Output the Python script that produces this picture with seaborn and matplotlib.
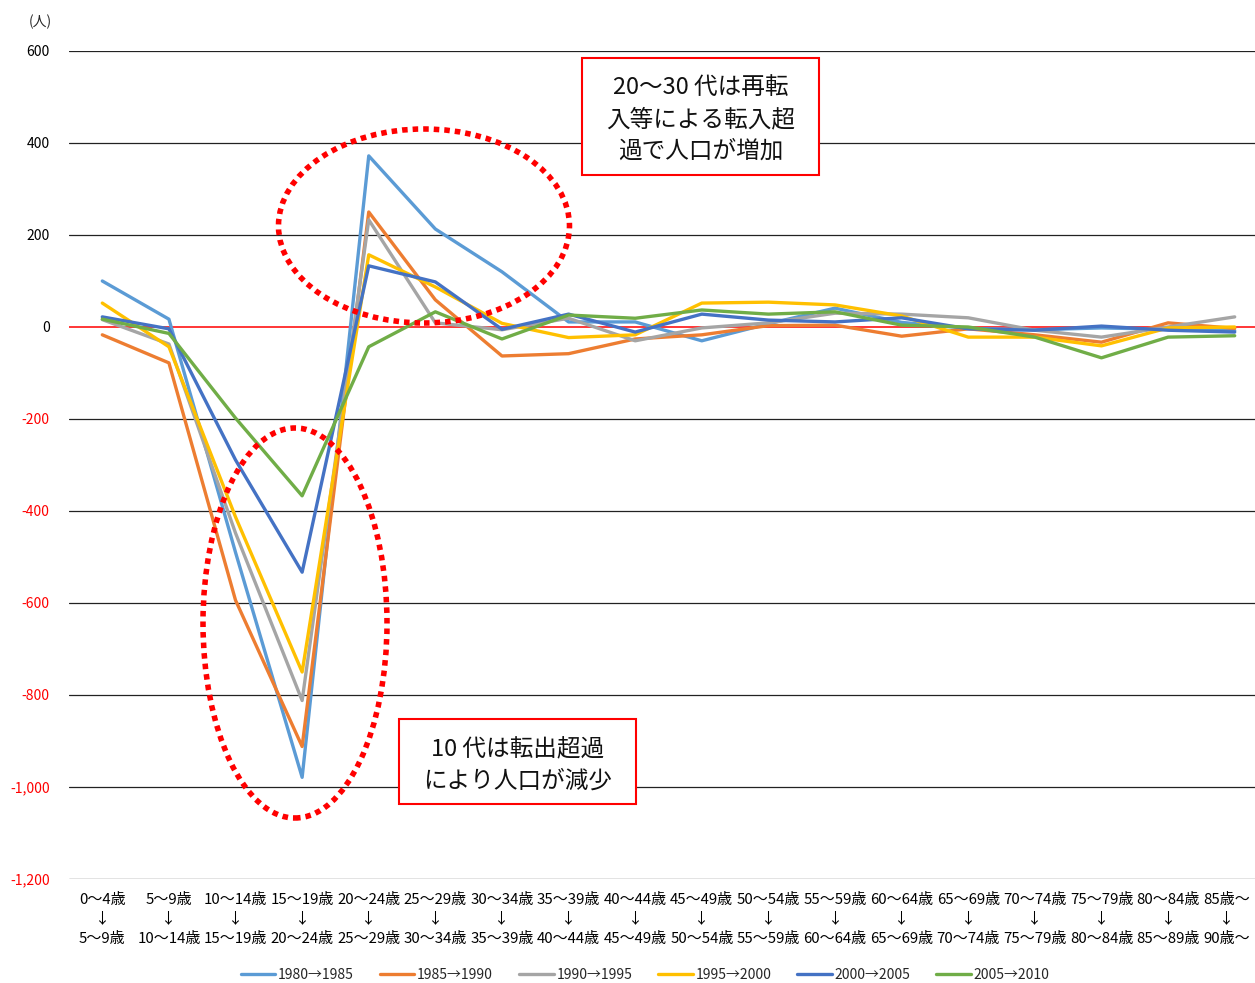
import numpy as np
import pandas as pd
import matplotlib
matplotlib.use("Agg")
import matplotlib.pyplot as plt
import matplotlib.transforms as mtransforms
from matplotlib.patches import Rectangle, Ellipse
import seaborn as sns

# ---------------- data ----------------
age_from = ["0〜4歳", "5〜9歳", "10〜14歳", "15〜19歳", "20〜24歳", "25〜29歳",
            "30〜34歳", "35〜39歳", "40〜44歳", "45〜49歳", "50〜54歳", "55〜59歳",
            "60〜64歳", "65〜69歳", "70〜74歳", "75〜79歳", "80〜84歳", "85歳〜"]
age_to = ["5〜9歳", "10〜14歳", "15〜19歳", "20〜24歳", "25〜29歳", "30〜34歳",
          "35〜39歳", "40〜44歳", "45〜49歳", "50〜54歳", "55〜59歳", "60〜64歳",
          "65〜69歳", "70〜74歳", "75〜79歳", "80〜84歳", "85〜89歳", "90歳〜"]

series_names = ["1980→1985", "1985→1990", "1990→1995", "1995→2000", "2000→2005", "2005→2010"]

s1980_1985 = [100, 17, -490, -979, 372, 213, 120, 11, 11, -30, 7, 41, 10, -3, -6, -2, -5, -8]
s1985_1990 = [-17, -78, -594, -912, 250, 59, -63, -58, -26, -17, 3, 4, -20, -4, -17, -33, 9, -3]
s1990_1995 = [16, -37, -448, -812, 233, 9, -6, 19, -30, -2, 9, 30, 28, 20, -7, -22, 0, 22]
s1995_2000 = [52, -43, -413, -750, 157, 87, 8, -23, -17, 52, 54, 48, 24, -22, -22, -41, -2, 0]
s2000_2005 = [22, -4, -289, -533, 133, 98, -5, 28, -11, 28, 15, 11, 20, -4, -7, 2, -7, -11]
s2005_2010 = [17, -14, -198, -367, -43, 33, -26, 26, 19, 37, 28, 33, 4, 0, -22, -67, -22, -19]

all_series = [s1980_1985, s1985_1990, s1990_1995, s1995_2000, s2000_2005, s2005_2010]

colors = ["#5B9BD5", "#ED7D31", "#A5A5A5", "#FFC000", "#4472C4", "#70AD47"]

y_ticks = [600, 400, 200, 0, -200, -400, -600, -800, -1000, -1200]

# ---------------- long-form table ----------------
rows = []
for name, vals in zip(series_names, all_series):
    for i, v in enumerate(vals):
        rows.append({"idx": i, "value": v, "series": name})
df = pd.DataFrame(rows)

# ---------------- style ----------------
sns.set_theme(style="white")
plt.rcParams["font.family"] = ["Noto Sans CJK JP", "DejaVu Sans"]

W, H = 1255, 983
fig = plt.figure(figsize=(W / 100, H / 100), dpi=100)

def fx(x):
    return x / W

def fy(y):
    return 1 - y / H

ax_left, ax_right, ax_top, ax_bottom = 69, 1268, 51, 879
ax = fig.add_axes([fx(ax_left), fy(ax_bottom), (ax_right - ax_left) / W, (ax_bottom - ax_top) / H])

# grid lines
for t in y_ticks:
    if t == 0:
        continue
    ax.axhline(t, color="#222222", lw=0.9, zorder=1)
ax.axhline(0, color="#FF0000", lw=1.1, zorder=1)

sns.lineplot(data=df, x="idx", y="value", hue="series", hue_order=series_names,
             palette=colors, linewidth=2.4, sort=False, ax=ax, zorder=3)

ax.set_xlim(-0.5, len(age_from) - 0.5)
ax.set_ylim(-1200, 600)

ax.set_xticks(range(len(age_from)))
ax.set_xticklabels([f"{a}\n↓\n{b}" for a, b in zip(age_from, age_to)],
                   fontsize=10.8, linespacing=1.5)
ax.set_yticks(y_ticks)
ax.set_yticklabels([f"{t:,}" for t in y_ticks], fontsize=10)
for lab, t in zip(ax.get_yticklabels(), y_ticks):
    lab.set_color("#FF0000" if t < 0 else "black")
for lab in ax.get_xticklabels():
    lab.set_color("black")
ax.tick_params(axis="y", length=0, pad=14)
ax.tick_params(axis="x", length=0, pad=10)
# keep the last (edge) label inside the picture
last = ax.get_xticklabels()[-1]
last.set_transform(last.get_transform() +
                   mtransforms.ScaledTranslation(-6 / 72, 0, fig.dpi_scale_trans))
ax.set_xlabel("")
ax.set_ylabel("")
for sp in ax.spines.values():
    sp.set_visible(False)

# legend
handles, labels = ax.get_legend_handles_labels()
ax.get_legend().remove()
fig.legend(handles, labels, loc="center", bbox_to_anchor=(fx(645), fy(975)),
           ncol=6, frameon=False, fontsize=10, handlelength=2.5,
           handletextpad=0.2, columnspacing=1.85)

# unit label
fig.text(fx(40), fy(22), "(人)", fontsize=10, ha="center", va="center")

# dotted ellipses
e1 = Ellipse((fx(424), fy(226)), (570 - 279) / W, (323 - 129) / H,
             transform=fig.transFigure, fill=False, edgecolor="#FF0000",
             lw=4, linestyle=(0, (1, 0.9)), zorder=5)
e2 = Ellipse((fx(295), fy(623)), (387 - 203) / W, (818 - 428) / H,
             transform=fig.transFigure, fill=False, edgecolor="#FF0000",
             lw=4, linestyle=(0, (1, 0.9)), zorder=5)
fig.add_artist(e1)
fig.add_artist(e2)

# annotation boxes
def box(x0, y0, x1, y1, text, dy):
    r = Rectangle((fx(x0), fy(y1)), (x1 - x0) / W, (y1 - y0) / H,
                  transform=fig.transFigure, facecolor="white",
                  edgecolor="#FF0000", lw=1.5, zorder=6)
    fig.add_artist(r)
    fig.text(fx((x0 + x1) / 2), fy((y0 + y1) / 2 + dy), text, fontsize=17,
             ha="center", va="center", linespacing=1.5, zorder=7, color="#111111")

box(582, 58, 819, 175, "20〜30 代は再転\n入等による転入超\n過で人口が増加", 3)
box(399, 719, 636, 804, "10 代は転出超過\nにより人口が減少", 4)

fig.savefig("out.png", dpi=100)
